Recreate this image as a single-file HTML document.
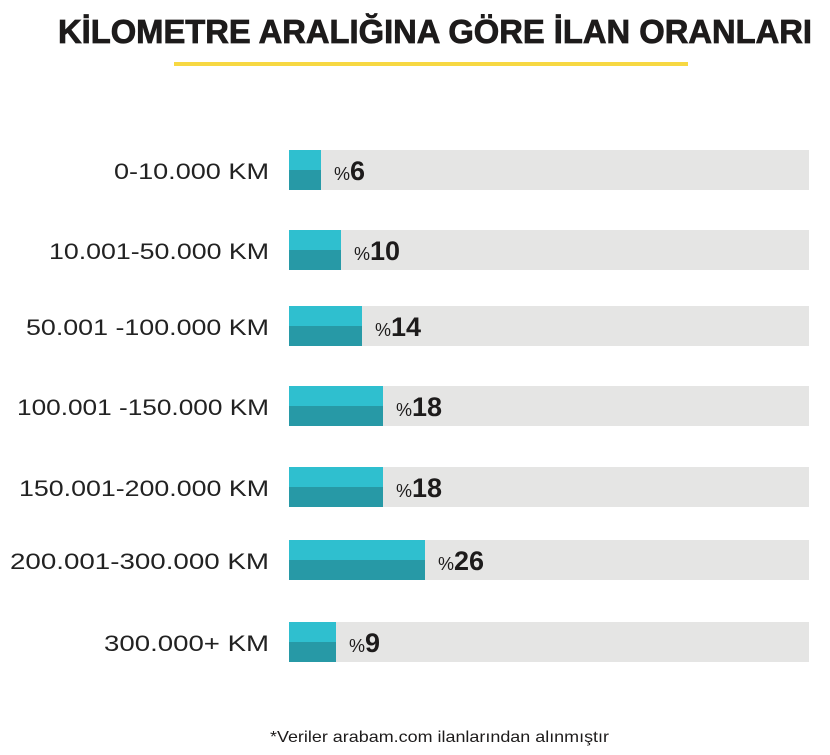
<!DOCTYPE html>
<html><head><meta charset="utf-8"><style>body{margin:0;background:#fff}svg{display:block}</style></head>
<body>
<svg width="830" height="755" xmlns="http://www.w3.org/2000/svg" font-family="Liberation Sans, sans-serif">
<text x="58" y="43" font-size="33" font-weight="bold" fill="#1d1b1b" stroke="#1d1b1b" stroke-width="0.8" textLength="754" lengthAdjust="spacingAndGlyphs">KİLOMETRE ARALIĞINA GÖRE İLAN ORANLARI</text>
<rect x="174" y="62" width="514" height="4" fill="#f7d842"/>
<g font-size="22" fill="#222" text-anchor="end">
<text x="269" y="179" textLength="155" lengthAdjust="spacingAndGlyphs">0-10.000 KM</text>
<text x="269" y="259" textLength="220" lengthAdjust="spacingAndGlyphs">10.001-50.000 KM</text>
<text x="269" y="335" textLength="243" lengthAdjust="spacingAndGlyphs">50.001 -100.000 KM</text>
<text x="269" y="415" textLength="252" lengthAdjust="spacingAndGlyphs">100.001 -150.000 KM</text>
<text x="269" y="496" textLength="250" lengthAdjust="spacingAndGlyphs">150.001-200.000 KM</text>
<text x="269" y="569" textLength="259" lengthAdjust="spacingAndGlyphs">200.001-300.000 KM</text>
<text x="269" y="651" textLength="165" lengthAdjust="spacingAndGlyphs">300.000+ KM</text>
</g>
<g>
<rect x="289" y="150" width="520" height="40" fill="#e5e5e4"/><rect x="289" y="150" width="32" height="20" fill="#2fbfcf"/><rect x="289" y="170" width="32" height="20" fill="#2799a6"/>
<rect x="289" y="230" width="520" height="40" fill="#e5e5e4"/><rect x="289" y="230" width="52" height="20" fill="#2fbfcf"/><rect x="289" y="250" width="52" height="20" fill="#2799a6"/>
<rect x="289" y="306" width="520" height="40" fill="#e5e5e4"/><rect x="289" y="306" width="73" height="20" fill="#2fbfcf"/><rect x="289" y="326" width="73" height="20" fill="#2799a6"/>
<rect x="289" y="386" width="520" height="40" fill="#e5e5e4"/><rect x="289" y="386" width="94" height="20" fill="#2fbfcf"/><rect x="289" y="406" width="94" height="20" fill="#2799a6"/>
<rect x="289" y="467" width="520" height="40" fill="#e5e5e4"/><rect x="289" y="467" width="94" height="20" fill="#2fbfcf"/><rect x="289" y="487" width="94" height="20" fill="#2799a6"/>
<rect x="289" y="540" width="520" height="40" fill="#e5e5e4"/><rect x="289" y="540" width="136" height="20" fill="#2fbfcf"/><rect x="289" y="560" width="136" height="20" fill="#2799a6"/>
<rect x="289" y="622" width="520" height="40" fill="#e5e5e4"/><rect x="289" y="622" width="47" height="20" fill="#2fbfcf"/><rect x="289" y="642" width="47" height="20" fill="#2799a6"/>
</g>
<g fill="#1d1b1b">
<text x="334" y="180"><tspan font-size="18">%</tspan><tspan font-size="27" font-weight="bold">6</tspan></text>
<text x="354" y="260"><tspan font-size="18">%</tspan><tspan font-size="27" font-weight="bold">10</tspan></text>
<text x="375" y="336"><tspan font-size="18">%</tspan><tspan font-size="27" font-weight="bold">14</tspan></text>
<text x="396" y="416"><tspan font-size="18">%</tspan><tspan font-size="27" font-weight="bold">18</tspan></text>
<text x="396" y="497"><tspan font-size="18">%</tspan><tspan font-size="27" font-weight="bold">18</tspan></text>
<text x="438" y="570"><tspan font-size="18">%</tspan><tspan font-size="27" font-weight="bold">26</tspan></text>
<text x="349" y="652"><tspan font-size="18">%</tspan><tspan font-size="27" font-weight="bold">9</tspan></text>
</g>
<text x="270" y="742" font-size="16" fill="#1d1b1b" textLength="339" lengthAdjust="spacingAndGlyphs">*Veriler arabam.com ilanlarından alınmıştır</text>
</svg>
</body></html>
